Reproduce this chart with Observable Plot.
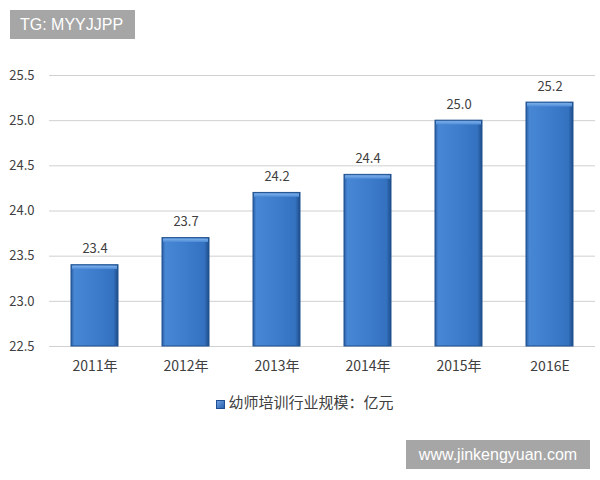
<!DOCTYPE html>
<html>
<head>
<meta charset="utf-8">
<script src="https://cdn.jsdelivr.net/npm/d3@7"></script>
<script src="https://cdn.jsdelivr.net/npm/@observablehq/plot@0.6"></script>
<style>
  body { margin: 0; background: #fff; }
  #wrap { position: relative; width: 600px; height: 480px; overflow: hidden; font-family: "Noto Sans CJK SC", "Open Sans", sans-serif; }
  .badge { position: absolute; background: #a6a6a6; color: #fff; font-family: "Liberation Sans", Arial, sans-serif; font-size: 16px; line-height: 29px; padding: 0 10px; }
  #legend { position: absolute; left: 5px; width: 600px; top: 391px; text-align: center; font-size: 15px; color: #404040; }
  #legend span.sw { display: inline-block; width: 9px; height: 9px; background: linear-gradient(135deg,#6fa0e0,#2a62b0); border: 1px solid #1f4f92; margin-right: 3px; vertical-align: -1px; box-sizing: border-box; }
</style>
</head>
<body>
<div id="wrap"></div>
<script>
const categories = ["2011年", "2012年", "2013年", "2014年", "2015年", "2016E"];
const values = [23.4, 23.7, 24.2, 24.4, 25.0, 25.2];
const yTicks = [22.5, 23.0, 23.5, 24.0, 24.5, 25.0, 25.5];
const seriesName = "幼师培训行业规模：亿元";
const badgeTop = "TG: MYYJJPP";
const badgeBottom = "www.jinkengyuan.com";

const data = categories.map((c, i) => ({cat: c, v: values[i]}));
const yMin = yTicks[0];

const chart = Plot.plot({
  width: 600,
  height: 480,
  marginTop: 75,
  marginBottom: 134,
  marginLeft: 49,
  marginRight: 5,
  style: {fontFamily: "'Noto Sans CJK SC', 'Open Sans', sans-serif", fontSize: "13px", color: "#404040", background: "transparent"},
  x: {domain: categories, paddingInner: 0.48, paddingOuter: 0.24, label: null},
  y: {domain: [yMin, yTicks[yTicks.length - 1]], label: null},
  marks: [
    Plot.gridY(yTicks, {stroke: "#d0d0d0", strokeOpacity: 1, strokeWidth: 1}),
    Plot.axisY(yTicks, {tickSize: 0, tickPadding: 15, tickFormat: d => d.toFixed(1), fontSize: 13, fill: "#404040"}),
    Plot.axisX({tickSize: 0, tickPadding: 15, fontSize: 14, fill: "#404040"}),
    Plot.barY(data, {x: "cat", y1: yMin, y2: "v", fill: "url(#barGrad)", stroke: "#21528f", strokeWidth: 1}),
    Plot.barY(data, {x: "cat", y1: d => d.v - 0.06, y2: "v", fill: "url(#topGrad)", inset: 1}),
    Plot.text(data, {x: "cat", y: "v", text: d => d.v.toFixed(1), dy: -16, fontSize: 13, fill: "#404040"})
  ]
});

const defs = d3.select(chart).insert("defs", ":first-child");
const g = defs.append("linearGradient").attr("id", "barGrad").attr("x1", "0").attr("x2", "1").attr("y1", "0").attr("y2", "0");
[["0%", "#2a5da3"], ["7%", "#4887d4"], ["50%", "#3d7dcc"], ["90%", "#3472c0"], ["100%", "#1f4d8a"]].forEach(([o, c]) => g.append("stop").attr("offset", o).attr("stop-color", c));
const t = defs.append("linearGradient").attr("id", "topGrad").attr("x1", "0").attr("x2", "0").attr("y1", "0").attr("y2", "1");
[["0%", "#7fb0ea"], ["100%", "#4b8ad6"]].forEach(([o, c]) => t.append("stop").attr("offset", o).attr("stop-color", c));

const wrap = document.getElementById("wrap");
wrap.appendChild(chart);
chart.style.position = "absolute";
chart.style.left = "0";
chart.style.top = "0";

const b1 = document.createElement("div");
b1.className = "badge";
b1.style.left = "10px"; b1.style.top = "10px";
b1.style.width = "105px";
b1.textContent = badgeTop;
wrap.appendChild(b1);

const b2 = document.createElement("div");
b2.className = "badge";
b2.style.left = "406px"; b2.style.top = "440px";
b2.style.width = "164px"; b2.style.textAlign = "center";
b2.textContent = badgeBottom;
wrap.appendChild(b2);

const lg = document.createElement("div");
lg.id = "legend";
lg.innerHTML = '<span class="sw"></span>' + seriesName;
wrap.appendChild(lg);
</script>
</body>
</html>
